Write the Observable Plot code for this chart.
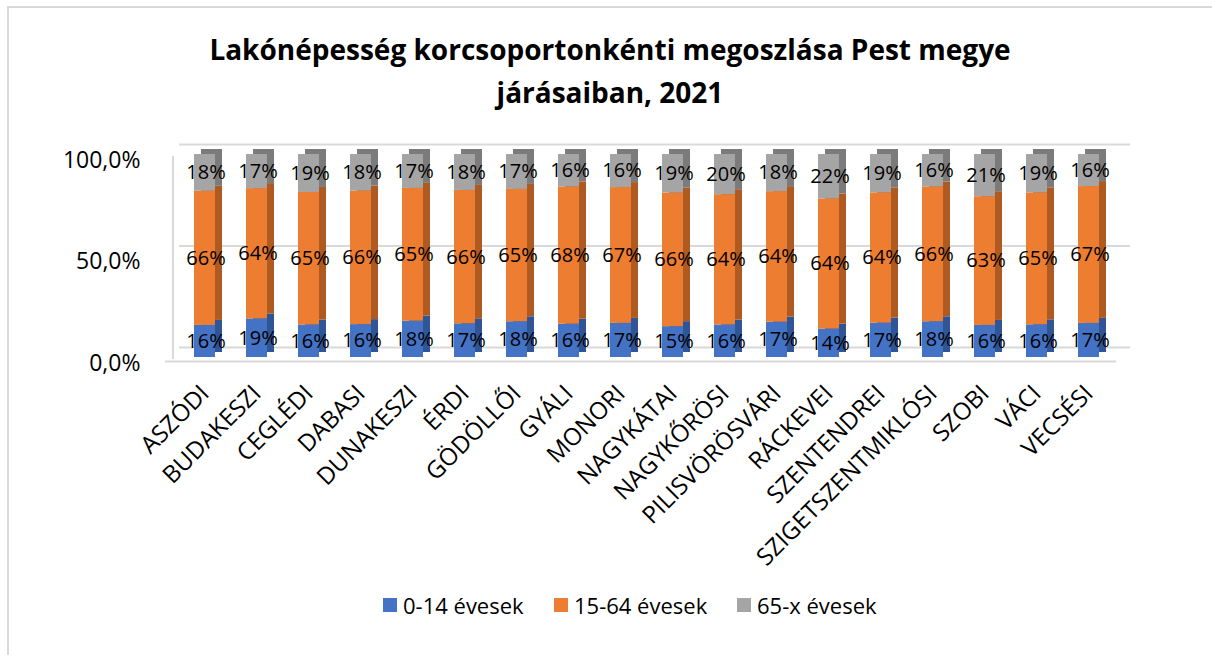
<!DOCTYPE html>
<html>
<head>
<meta charset="utf-8">
<script src="https://cdn.jsdelivr.net/npm/d3@7"></script>
<script src="https://cdn.jsdelivr.net/npm/@observablehq/plot@0.6"></script>
<style>
  html, body { margin: 0; padding: 0; background: #fff; }
  #chart { position: relative; width: 1212px; height: 655px; overflow: hidden; font-family: "Open Sans", sans-serif; color: #000; }
  #frame { position: absolute; left: 7px; top: 6px; width: 1300px; height: 800px; border-top: 2px solid #d9d9d9; border-left: 2px solid #d9d9d9; }
  #title { position: absolute; left: 0; top: 28px; width: 1220px; text-align: center; font-weight: 700; font-size: 28px; line-height: 43px; }
  #plot { position: absolute; left: 0; top: 120px; }
  #plot svg { overflow: visible; }
  #plot g[aria-label="x-axis tick label"] { font-size: 24px; }
  #legend { position: absolute; left: 0; top: 590px; width: 1212px; height: 30px; font-size: 22px; line-height: 30px; }
  .item { position: absolute; top: 0; display: flex; align-items: center; white-space: nowrap; }
  .sw { width: 14px; height: 14px; margin-right: 6px; }
</style>
</head>
<body>
<div id="chart">
  <div id="frame"></div>
  <div id="title">Lakónépesség korcsoportonkénti megoszlása Pest megye<br>járásaiban, 2021</div>
  <div id="plot"></div>
  <div id="legend"></div>
</div>
<script>
const categories = ["ASZÓDI","BUDAKESZI","CEGLÉDI","DABASI","DUNAKESZI","ÉRDI","GÖDÖLLŐI","GYÁLI","MONORI","NAGYKÁTAI","NAGYKŐRÖSI","PILISVÖRÖSVÁRI","RÁCKEVEI","SZENTENDREI","SZIGETSZENTMIKLÓSI","SZOBI","VÁCI","VECSÉSI"];
const age0_14  = [15.8,19.0,16.0,16.2,17.9,16.6,17.6,16.4,16.8,15.2,16.0,17.4,14.0,16.9,17.6,15.8,16.1,16.8];
const age15_64 = [66.1,64.2,65.3,65.8,65.4,65.7,65.2,67.6,66.9,65.8,64.2,64.3,64.1,64.2,66.4,63.4,65.0,67.4];
const age65_x  = [18.1,16.8,18.7,18.0,16.7,17.7,17.2,16.0,16.3,19.0,19.8,18.3,21.9,18.9,16.0,20.8,18.9,15.8];
const seriesNames = ["0-14 évesek","15-64 évesek","65-x évesek"];
const seriesColors = ["#4472c4","#ed7d31","#a5a5a5"];
const sideColors = ["#2f5597","#ae5a21","#7b7b7b"];
const yTicks = [0, 50, 100];

const seriesValues = [age0_14, age15_64, age65_x];
const rows = [];
categories.forEach((c, i) => {
  let acc = 0;
  seriesValues.forEach((vals, s) => {
    const v = vals[i];
    rows.push({cat: c, series: seriesNames[s], s, value: v, y1: acc, y2: acc + v, mid: acc + v / 2});
    acc += v;
  });
});

const fmtTick = d => d.toFixed(1).replace(".", ",") + "%";
const grid = "#d9d9d9";

const sideMarks = seriesNames.map((name, s) =>
  Plot.barY(rows.filter(r => r.s === s), {x: "cat", y1: "y1", y2: "y2", fill: sideColors[s], dx: 7, dy: -5})
);

const chart = Plot.plot({
  width: 1212,
  height: 470,
  marginTop: 34,
  marginBottom: 233,
  marginLeft: 171,
  marginRight: 90,
  style: {fontFamily: "Open Sans, sans-serif", fontSize: "22px", color: "#000", background: "transparent"},
  x: {domain: categories, paddingInner: 0.6, paddingOuter: 0.3, label: null, tickSize: 0, tickPadding: 32, tickRotate: -45},
  y: {domain: [0, 100], axis: null},
  color: {domain: seriesNames, range: seriesColors},
  marks: [
    Plot.ruleY(yTicks, {stroke: grid, strokeWidth: 2, dx: 8, dy: -10}),
    Plot.ruleY([0], {stroke: grid, strokeWidth: 2, dx: -6, dy: 4}),
    Plot.ruleX([categories[0]], {y1: 0, y2: 100, stroke: grid, strokeWidth: 2, dx: -32, dy: 2}),
    ...sideMarks,
    Plot.barY(rows, {x: "cat", y1: "y1", y2: "y2", fill: "series"}),
    Plot.text(rows, {x: "cat", y: "mid", text: d => Math.round(d.value) + "%", fontSize: 20, fill: "#000", dx: 1}),
    Plot.text(yTicks, {y: d => d, text: fmtTick, frameAnchor: "left", textAnchor: "end", dx: -31, dy: 6, fontSize: 23, fill: "#000"})
  ]
});
document.getElementById("plot").appendChild(chart);

const legend = document.getElementById("legend");
const legendLeft = [383, 554, 737];
seriesNames.forEach((name, s) => {
  const item = document.createElement("div");
  item.className = "item";
  item.style.left = legendLeft[s] + "px";
  item.innerHTML = `<span class="sw" style="background:${seriesColors[s]}"></span><span>${name}</span>`;
  legend.appendChild(item);
});
</script>
</body>
</html>
